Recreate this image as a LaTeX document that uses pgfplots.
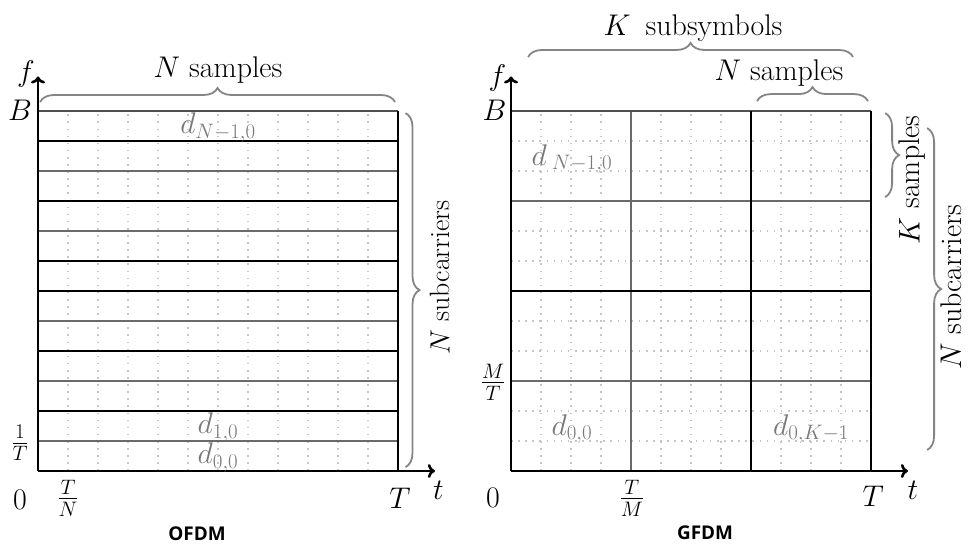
\RequirePackage{fix-cm}
\documentclass[border=0pt]{standalone}
\usepackage{fontspec}
\usepackage{pgfplots}
\pgfplotsset{compat=1.18}
\usetikzlibrary{arrows.meta,decorations.pathreplacing}
\newfontfamily\labfont{Open Sans}
\definecolor{gl}{HTML}{6A6A6A}
\definecolor{topc}{HTML}{505050}
\definecolor{dotc}{HTML}{C6C6C6}
\definecolor{brc}{HTML}{858585}
\definecolor{dc}{HTML}{787878}
\newcommand\bigf{\fontsize{30}{36}\selectfont}
\tikzset{br/.style={brc, line width=1.8bp, decorate, decoration={brace, amplitude=14bp}}}
\pgfplotsset{panel/.style={hide axis, scale only axis, width=360bp, height=360bp,
  xmin=0,xmax=12,ymin=0,ymax=12, clip=false, anchor=south west}}
\begin{document}
\begin{tikzpicture}[x=1bp,y=1bp, every node/.style={font=\bigf, inner sep=0pt}]
\useasboundingbox (0,0) rectangle (968,546);
% ---------------- OFDM ----------------
\begin{axis}[panel, at={(38bp,75bp)}]
\addplot[dotc, line width=1.6bp, dash pattern=on 1.6bp off 5.5bp, unbounded coords=jump] coordinates {
(1,0)(1,12)(nan,nan)(2,0)(2,12)(nan,nan)(3,0)(3,12)(nan,nan)(4,0)(4,12)(nan,nan)
(5,0)(5,12)(nan,nan)(6,0)(6,12)(nan,nan)(7,0)(7,12)(nan,nan)(8,0)(8,12)(nan,nan)
(9,0)(9,12)(nan,nan)(10,0)(10,12)(nan,nan)(11,0)(11,12)};
\addplot[gl, line width=2bp, unbounded coords=jump] coordinates {
(0,1)(12,1)(nan,nan)(0,3)(12,3)(nan,nan)(0,5)(12,5)(nan,nan)(0,8)(12,8)(nan,nan)(0,10)(12,10)};
\addplot[topc, line width=2.2bp] coordinates {(0,12)(12,12)};
\addplot[black, line width=2.6bp, unbounded coords=jump] coordinates {
(0,2)(12,2)(nan,nan)(0,4)(12,4)(nan,nan)(0,6)(12,6)(nan,nan)(0,7)(12,7)(nan,nan)
(0,9)(12,9)(nan,nan)(0,11)(12,11)(nan,nan)(12,0)(12,12)};
\addplot[black, line width=2.6bp, -{To[length=7bp,width=14bp]}] coordinates {(0,0)(13.23,0)};
\addplot[black, line width=2.6bp, -{To[length=7bp,width=14bp]}] coordinates {(0,0)(0,13.15)};
% labels
\node at (axis cs:-0.4,13.23) {$f$};
\node at (axis cs:-0.6,12.03) {$B$};
\node at (axis cs:-0.6,0.93) {$\frac{1}{T}$};
\node at (axis cs:-0.6,-0.95) {$0$};
\node at (axis cs:1.0,-0.9) {$\frac{T}{N}$};
\node at (axis cs:12.07,-0.9) {$T$};
\node at (axis cs:13.35,-0.65) {$t$};
\node[anchor=base] at (axis cs:6.0,13.1) {$N$ samples};
\node[dc] at (axis cs:6.0,11.45) {$d_{N-1,0}$};
\node[dc] at (axis cs:6.0,1.45) {$d_{1,0}$};
\node[dc] at (axis cs:6.0,0.45) {$d_{0,0}$};
\draw[br] (axis cs:0.07,12.3) -- (axis cs:11.9,12.3);
\draw[br] (axis cs:12.25,11.93) -- (axis cs:12.25,0.13);
\node[rotate=90, font=\fontsize{28}{34}\selectfont] at (axis cs:13.4,6.45) {$N$ subcarriers};
\node[font=\labfont\bfseries\fontsize{19}{23}\selectfont] at (axis cs:5.3,-2.1) {OFDM};
\end{axis}
% ---------------- GFDM ----------------
\begin{axis}[panel, at={(511bp,75bp)}]
\addplot[dotc, line width=1.6bp, dash pattern=on 1.6bp off 5.5bp, unbounded coords=jump] coordinates {
(1,0)(1,12)(nan,nan)(2,0)(2,12)(nan,nan)(3,0)(3,12)(nan,nan)
(5,0)(5,12)(nan,nan)(6,0)(6,12)(nan,nan)(7,0)(7,12)(nan,nan)
(9,0)(9,12)(nan,nan)(10,0)(10,12)(nan,nan)(11,0)(11,12)(nan,nan)
(0,1)(12,1)(nan,nan)(0,2)(12,2)(nan,nan)(0,4)(12,4)(nan,nan)(0,5)(12,5)(nan,nan)
(0,7)(12,7)(nan,nan)(0,8)(12,8)(nan,nan)(0,10)(12,10)(nan,nan)(0,11)(12,11)};
\addplot[gl, line width=2bp, unbounded coords=jump] coordinates {
(0,3)(12,3)(nan,nan)(0,9)(12,9)(nan,nan)(4,0)(4,12)};
\addplot[topc, line width=2.2bp] coordinates {(0,12)(12,12)};
\addplot[black, line width=2.6bp, unbounded coords=jump] coordinates {
(0,6)(12,6)(nan,nan)(8,0)(8,12)(nan,nan)(12,0)(12,12)};
\addplot[black, line width=2.6bp, -{To[length=7bp,width=14bp]}] coordinates {(0,0)(13.23,0)};
\addplot[black, line width=2.6bp, -{To[length=7bp,width=14bp]}] coordinates {(0,0)(0,13.15)};
\node at (axis cs:-0.45,13.1) {$f$};
\node at (axis cs:-0.55,12.03) {$B$};
\node at (axis cs:-0.6,2.97) {$\frac{M}{T}$};
\node at (axis cs:-0.6,-0.9) {$0$};
\node at (axis cs:4.03,-0.9) {$\frac{T}{M}$};
\node at (axis cs:12.07,-0.85) {$T$};
\node at (axis cs:13.4,-0.65) {$t$};
\node[dc] at (axis cs:2.03,10.4) {$d\,{}_{N-1,0}$};
\node[dc] at (axis cs:2.03,1.4) {$d_{0,0}$};
\node[dc] at (axis cs:10.0,1.4) {$d_{0,K-1}$};
\node[anchor=base] at (axis cs:6.07,14.53) {$K$\enspace subsymbols};
\draw[br] (axis cs:0.57,13.8) -- (axis cs:11.4,13.8);
\node[anchor=base] at (axis cs:8.93,13.03) {$N$ samples};
\draw[br] (axis cs:8.2,12.33) -- (axis cs:11.9,12.33);
\draw[br] (axis cs:12.47,11.93) -- (axis cs:12.47,9.13);
\node[rotate=90] at (axis cs:13.37,9.7) {$K$ samples};
\draw[br] (axis cs:13.87,11.43) -- (axis cs:13.87,0.7);
\node[rotate=90, anchor=base, font=\fontsize{30}{36}\selectfont] at (axis cs:15.0,6.13) {$N$ subcarriers};
\node[font=\labfont\bfseries\fontsize{19}{23}\selectfont] at (axis cs:6.47,-2.07) {GFDM};
\end{axis}
\end{tikzpicture}
\end{document}
